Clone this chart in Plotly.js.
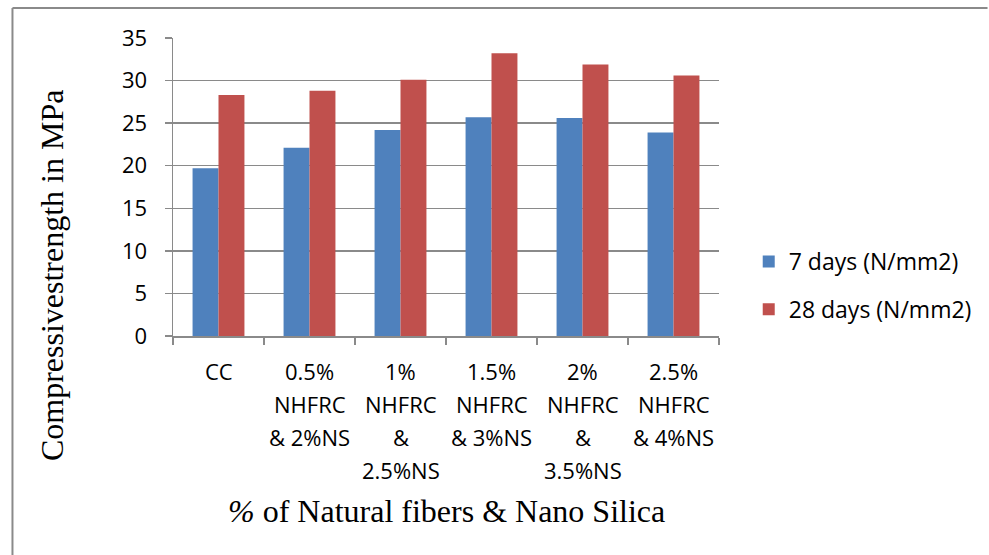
<!DOCTYPE html>
<html>
<head>
<meta charset="utf-8">
<script src="https://cdn.plot.ly/plotly-3.0.1.min.js"></script>
<style>
  html, body { margin: 0; padding: 0; background: #fff; }
  #chart { width: 989px; height: 555px; }
</style>
</head>
<body>
<div id="chart"></div>
<script>
// Compressive strength of concrete mixes at 7 and 28 days
const categories = [
  "CC",
  "0.5% NHFRC & 2%NS",
  "1% NHFRC & 2.5%NS",
  "1.5% NHFRC & 3%NS",
  "2% NHFRC & 3.5%NS",
  "2.5% NHFRC & 4%NS"
];
const tickLabels = [
  "CC",
  "0.5%<br>NHFRC<br>& 2%NS",
  "1%<br>NHFRC<br>&<br>2.5%NS",
  "1.5%<br>NHFRC<br>& 3%NS",
  "2%<br>NHFRC<br>&<br>3.5%NS",
  "2.5%<br>NHFRC<br>& 4%NS"
];
const days7 = [19.7, 22.1, 24.2, 25.7, 25.6, 23.9];
const days28 = [28.3, 28.8, 30.1, 33.2, 31.9, 30.6];
const seriesNames = ["7 days (N/mm2)", "28 days (N/mm2)"];
const yTitle = "Compressivestrength in MPa";
const xTitle = "<i>%</i> of Natural fibers & Nano Silica";

// Page geometry
const W = 989, H = 555;
const M = { l: 173, r: 265, t: 38, b: 219 };
const PW = W - M.l - M.r, PH = H - M.t - M.b;
const xp = px => (px - M.l) / PW;
const yp = py => (H - M.b - py) / PH;

const gray = "#8a8a8a";
const sans = "Open Sans, Lato, sans-serif";
const serif = "Liberation Serif, Times New Roman, serif";

const traces = [
  { type: "bar", x: categories, y: days7, name: seriesNames[0], legendgroup: "a",
    marker: { color: "#4F81BD", line: { width: 0 } } },
  { type: "bar", x: categories, y: days28, name: seriesNames[1], legendgroup: "b",
    marker: { color: "#C0504D", line: { width: 0 } } }
];

// Multi-line category labels, one annotation per line
const annotations = [];
tickLabels.forEach((lab, i) => {
  lab.split("<br>").forEach((line, j) => {
    annotations.push({
      x: categories[i], xref: "x", y: 0, yref: "paper",
      text: line, showarrow: false, xanchor: "center", yanchor: "middle",
      yshift: -(35 + j * 33),
      font: { family: sans, size: 22, color: "#000" }
    });
  });
});
annotations.push({
  x: xp(51), y: yp(275), xref: "paper", yref: "paper", text: yTitle,
  textangle: -90, showarrow: false, xanchor: "center", yanchor: "middle",
  font: { family: serif, size: 32, color: "#000" }
});
annotations.push({
  x: 0.5, y: yp(511), xref: "paper", yref: "paper", text: xTitle,
  showarrow: false, xanchor: "center", yanchor: "middle",
  font: { family: serif, size: 32, color: "#000" }
});

const layout = {
  width: W, height: H,
  margin: M,
  paper_bgcolor: "#fff", plot_bgcolor: "#fff",
  barmode: "group", bargap: 0.43, bargroupgap: 0,
  showlegend: true,
  legend: {
    x: xp(754), xanchor: "left", y: yp(240), yanchor: "top",
    font: { family: sans, size: 23, color: "#000" },
    tracegroupgap: 15, traceorder: "grouped", bgcolor: "rgba(0,0,0,0)"
  },
  xaxis: {
    type: "category", showticklabels: false,
    ticks: "outside", tickson: "boundaries", ticklen: 7, tickcolor: gray, tickwidth: 1.5,
    showline: true, linecolor: gray, linewidth: 1.5, showgrid: false, zeroline: false,
    fixedrange: true
  },
  yaxis: {
    range: [0, 35], dtick: 5, tick0: 0,
    ticks: "outside", ticklen: 7, tickcolor: gray, tickwidth: 1.5,
    ticklabelstandoff: 13,
    showline: true, linecolor: gray, linewidth: 1.5,
    showgrid: true, gridcolor: gray, gridwidth: 1.5, zeroline: false,
    tickfont: { family: sans, size: 22, color: "#000" },
    fixedrange: true
  },
  shapes: [
    { type: "line", xref: "paper", yref: "paper", x0: xp(11), x1: xp(11), y0: yp(8), y1: yp(560),
      line: { color: gray, width: 2 } },
    { type: "line", xref: "paper", yref: "paper", x0: xp(11), x1: xp(995), y0: yp(8), y1: yp(8),
      line: { color: gray, width: 2 } }
  ],
  annotations: annotations
};

Plotly.newPlot("chart", traces, layout, { displayModeBar: false, staticPlot: true });
</script>
</body>
</html>
